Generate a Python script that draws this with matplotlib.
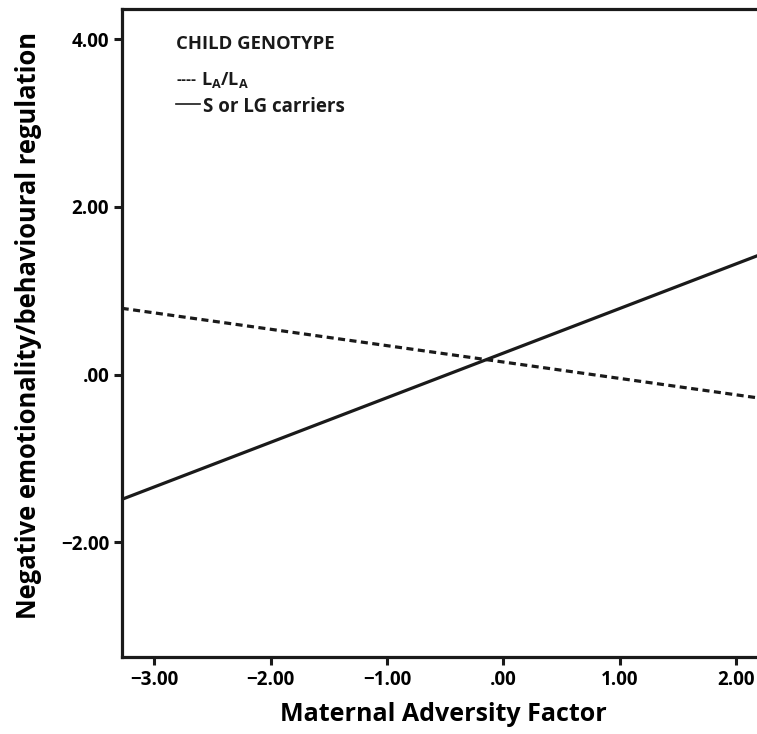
import matplotlib.pyplot as plt
from matplotlib.lines import Line2D

# simple slopes: predicted outcome at the two ends of the x range
x_ends = [-3.28, 2.245]
la_la = [0.79, -0.29]        # dashed, L_A/L_A
s_or_lg = [-1.49, 1.45]      # solid, S or LG carriers

xticks = [-3, -2, -1, 0, 1, 2]
xtick_labels = ['\u22123.00', '\u22122.00', '\u22121.00', '.00', '1.00', '2.00']
yticks = [-2, 0, 2, 4]
ytick_labels = ['\u22122.00', '.00', '2.00', '4.00']

plt.rcParams['font.family'] = ['Open Sans', 'DejaVu Sans']
plt.rcParams['font.weight'] = 'bold'
plt.rcParams['mathtext.fontset'] = 'custom'
plt.rcParams['mathtext.bf'] = 'Open Sans:bold'
plt.rcParams['mathtext.rm'] = 'Open Sans:bold'

fig = plt.figure(figsize=(7.57, 7.34), dpi=100)
ax = fig.add_axes([0.1608, 0.1049, 0.8392 + 0.01, 0.8828])

ax.plot(x_ends, la_la, color='#1a1a1a', lw=2.3, dashes=(2.2, 1.4))
ax.plot(x_ends, s_or_lg, color='#1a1a1a', lw=2.3)

ax.set_xlim(-3.28, 2.245)
ax.set_ylim(-3.37, 4.36)
ax.set_xticks(xticks)
ax.set_xticklabels(xtick_labels)
ax.set_yticks(yticks)
ax.set_yticklabels(ytick_labels)
ax.tick_params(width=2.2, length=6, labelsize=13.5, color='#1a1a1a', pad=3)

for side in ['left', 'bottom', 'top']:
    ax.spines[side].set_linewidth(2.3)
    ax.spines[side].set_color('#1a1a1a')
ax.spines['right'].set_visible(False)

ax.set_xlabel('Maternal Adversity Factor', fontsize=18, fontweight='bold', labelpad=9)
ax.set_ylabel('Negative emotionality/behavioural regulation', fontsize=18.4,
              fontweight='bold')
ax.yaxis.set_label_coords(-0.124, 0.512)

# legend drawn as text in the upper left corner
ax.text(0.085, 0.946, 'CHILD GENOTYPE', transform=ax.transAxes, fontsize=13.3,
        fontweight='bold', va='center', color='#1a1a1a')
ax.text(0.085, 0.891, '----', transform=ax.transAxes, fontsize=11,
        fontweight='bold', va='center', color='#1a1a1a')
ax.text(0.124, 0.890, r'$\mathbf{L_A/L_A}$', transform=ax.transAxes, fontsize=13,
        va='center', color='#1a1a1a')
ax.add_line(Line2D([0.085, 0.121], [0.853, 0.853], transform=ax.transAxes,
                   color='#1a1a1a', lw=1.2))
ax.text(0.126, 0.849, 'S or LG carriers', transform=ax.transAxes, fontsize=13.5,
        fontweight='bold', va='center', color='#1a1a1a')

fig.savefig('out.png', dpi=100)
